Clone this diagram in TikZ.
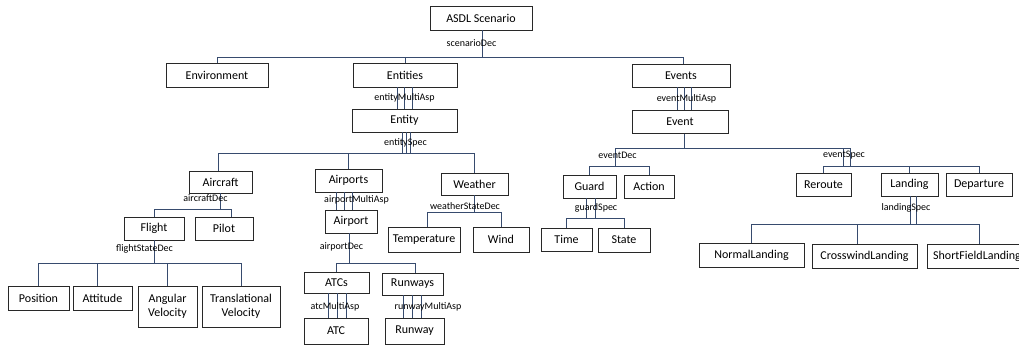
\documentclass[tikz,border=0pt]{standalone}
\usepackage{fontspec}
\setmainfont{Carlito}
\definecolor{connc}{RGB}{55,75,110}
\definecolor{boxc}{RGB}{40,40,40}
\newcommand{\boxfont}{\fontsize{12}{13.5}\selectfont}
\newcommand{\labfont}{\fontsize{10}{12}\selectfont}
\begin{document}
\begin{tikzpicture}[x=1pt,y=-1pt,
  box/.style={draw=boxc, line width=0.8pt, inner sep=0pt, align=center, font=\boxfont, text=black},
  lab/.style={inner sep=0pt, font=\labfont, text=black},
  conn/.style={draw=connc, line width=0.8pt}]
\useasboundingbox (0,0) rectangle (1019,345);
\clip (0,0) rectangle (1019,345);

% ---- boxes ----
\node[box, minimum width=102, minimum height=24] (root) at (481,18) {ASDL Scenario};
\node[box, minimum width=102, minimum height=24] (env) at (217,75) {Environment};
\node[box, minimum width=104, minimum height=24] (entities) at (405,75) {Entities};
\node[box, minimum width=98, minimum height=23] (events) at (681,75.5) {Events};
\node[box, minimum width=105, minimum height=23] (entity) at (404.5,120.5) {Entity};
\node[box, minimum width=96, minimum height=23] (event) at (680,122) {Event};

\node[box, minimum width=63, minimum height=22] (aircraft) at (220.5,182) {Aircraft};
\node[box, minimum width=67, minimum height=23] (airports) at (348.5,180.5) {Airports};
\node[box, minimum width=67, minimum height=22] (weather) at (474.5,184) {Weather};

\node[box, minimum width=60, minimum height=23] (flight) at (154,228.5) {Flight};
\node[box, minimum width=58, minimum height=23] (pilot) at (224,228.5) {Pilot};
\node[box, minimum width=52, minimum height=23] (airport) at (351,221.5) {Airport};
\node[box, minimum width=72, minimum height=25] (temp) at (424,239.5) {Temperature};
\node[box, minimum width=56, minimum height=25] (wind) at (501,239.5) {Wind};

\node[box, minimum width=61, minimum height=24] (position) at (38.5,298) {Position};
\node[box, minimum width=59, minimum height=24] (attitude) at (102.5,298) {Attitude};
\node[box, minimum width=59, minimum height=41] (angular) at (167.5,306.5) {Angular\\Velocity};
\node[box, minimum width=78, minimum height=41] (transl) at (241,306.5) {Translational\\Velocity};

\node[box, minimum width=65, minimum height=21] (atcs) at (336.5,282.5) {ATCs};
\node[box, minimum width=61, minimum height=22] (runways) at (412.5,284) {Runways};
\node[box, minimum width=64, minimum height=26] (atc) at (336,331) {ATC};
\node[box, minimum width=59, minimum height=26] (runway) at (414.5,331) {Runway};

\node[box, minimum width=53, minimum height=23] (guard) at (589.5,186.5) {Guard};
\node[box, minimum width=50, minimum height=23] (action) at (649,186.5) {Action};
\node[box, minimum width=51, minimum height=23] (time) at (566.5,239.5) {Time};
\node[box, minimum width=52, minimum height=24] (state) at (624,240) {State};

\node[box, minimum width=55, minimum height=23] (reroute) at (823.5,184.5) {Reroute};
\node[box, minimum width=57, minimum height=23] (landing) at (909.5,184.5) {Landing};
\node[box, minimum width=66, minimum height=23] (departure) at (979,184.5) {Departure};
\node[box, minimum width=105, minimum height=24] (normal) at (751.5,255) {NormalLanding};
\node[box, minimum width=105, minimum height=24] (cross) at (864.5,256) {CrosswindLanding};
\node[box, minimum width=100, minimum height=24] (short) at (977,256) {ShortFieldLanding};

% ---- bar levels ----
\coordinate (yroot) at (0,57);
\coordinate (yentity) at (0,153);
\coordinate (yaircraft) at (0,209);
\coordinate (yflight) at (0,263);
\coordinate (yairport) at (0,263);
\coordinate (yweather) at (0,212);
\coordinate (yevent) at (0,148);
\coordinate (yeventdec) at (0,166);
\coordinate (yguard) at (0,218);
\coordinate (ylanding) at (0,224);

% ---- scenario decomposition ----
\draw[conn] ([xshift=1pt]root.south) -- ([xshift=1pt]root.south |- yroot);
\draw[conn] (env.north) |- ([xshift=2pt]events.north |- yroot) -- ([xshift=2pt]events.north);
\draw[conn] (entities.north) -- (entities.north |- yroot);

% ---- multi-aspects ----
\foreach \dx in {-8,-1,7}
  \draw[conn] ([xshift=\dx pt]entities.south) -- ([xshift=\dx pt]entities.south |- entity.north);
\foreach \dx in {-4,3,10}
  \draw[conn] ([xshift=\dx pt]events.south) -- ([xshift=\dx pt]events.south |- event.north);
\foreach \dx in {-12,-4,4}
  \draw[conn] ([xshift=\dx pt]airports.south) -- ([xshift=\dx pt]airports.south |- airport.north);
\foreach \dx in {-8,1,10}
  \draw[conn] ([xshift=\dx pt]atcs.south) -- ([xshift=\dx pt]atcs.south |- atc.north);
\foreach \dx in {-9,0,9}
  \draw[conn] ([xshift=\dx pt]runways.south) -- ([xshift=\dx pt]runways.south |- runway.north);

% ---- entity specialization ----
\foreach \dx in {-2.5,1.5,5.5}
  \draw[conn] ([xshift=\dx pt]entity.south) -- ([xshift=\dx pt]entity.south |- yentity);
\draw[conn] ([xshift=-2.5pt]aircraft.north) |- (weather.north |- yentity) -- (weather.north);
\draw[conn] (airports.north) -- (airports.north |- yentity);

% ---- aircraft decomposition ----
\draw[conn] (aircraft.south) -- (aircraft.south |- yaircraft);
\draw[conn] (flight.north) |- ([xshift=7pt]pilot.north |- yaircraft) -- ([xshift=7pt]pilot.north);

% ---- flight state decomposition ----
\draw[conn] (flight.south) -- (flight.south |- yflight);
\draw[conn] (position.north) |- (transl.north |- yflight) -- (transl.north);
\draw[conn] ([xshift=-5.5pt]attitude.north) -- ([xshift=-5.5pt]attitude.north |- yflight);
\draw[conn] (angular.north) -- (angular.north |- yflight);

% ---- airport decomposition ----
\draw[conn] ([xshift=-2pt]airport.south) -- ([xshift=-2pt]airport.south |- yairport);
\draw[conn] (atcs.north) |- ([xshift=2.5pt]runways.north |- yairport) -- ([xshift=2.5pt]runways.north);

% ---- weather state decomposition ----
\draw[conn] (weather.south) -- (weather.south |- yweather);
\draw[conn] ([xshift=3pt]temp.north) |- (wind.north |- yweather) -- (wind.north);

% ---- event decomposition / specialization ----
\draw[conn] ([xshift=4pt]event.south) -- ([xshift=4pt]event.south |- yevent);
\coordinate (decx) at (615,0);
\coordinate (specx) at (850,0);
\coordinate (specx2) at (843,0);
\draw[conn] (decx |- yeventdec) -- (decx |- yevent) -- (specx |- yevent) -- (specx |- yeventdec);
\draw[conn] (specx2 |- yevent) -- (specx2 |- yeventdec);
\draw[conn] (guard.north) |- (action.north |- yeventdec) -- (action.north);
\draw[conn] (reroute.north) |- (departure.north |- yeventdec) -- (departure.north);
\draw[conn] (landing.north) -- (landing.north |- yeventdec);

% ---- guard specialization ----
\foreach \dx in {-3.5,5.5}
  \draw[conn] ([xshift=\dx pt]guard.south) -- ([xshift=\dx pt]guard.south |- yguard);
\draw[conn] (time.north) |- (state.north |- yguard) -- (state.north);

% ---- landing specialization ----
\foreach \dx in {0.5,6.5}
  \draw[conn] ([xshift=\dx pt]landing.south) -- ([xshift=\dx pt]landing.south |- ylanding);
\draw[conn] (normal.north) |- ([xshift=2pt]short.north |- ylanding) -- ([xshift=2pt]short.north);
\draw[conn] ([xshift=-7.5pt]cross.north) -- ([xshift=-7.5pt]cross.north |- ylanding);

% ---- labels ----
\node[lab] (l-scen) at (471.5,43) {scenarioDec};
\node[lab] (l-entm) at (404.5,98) {entityMultiAsp};
\node[lab] (l-evtm) at (686.5,99) {eventMultiAsp};
\node[lab] (l-ents) at (405.5,143) {entitySpec};
\node[lab] (l-acd) at (205.5,198) {aircraftDec};
\node[lab] (l-apm) at (356.5,200) {airportMultiAsp};
\node[lab] (l-wsd) at (465,206) {weatherStateDec};
\node[lab] (l-fsd) at (144.5,249) {flightStateDec};
\node[lab] (l-apd) at (341.5,247) {airportDec};
\node[lab] (l-atm) at (335,307) {atcMultiAsp};
\node[lab] (l-rwm) at (428,307) {runwayMultiAsp};
\node[lab] (l-evd) at (617.5,155) {eventDec};
\node[lab] (l-evs) at (844,155) {eventSpec};
\node[lab] (l-gds) at (596,208) {guardSpec};
\node[lab] (l-lds) at (906,208) {landingSpec};
\end{tikzpicture}
\end{document}
